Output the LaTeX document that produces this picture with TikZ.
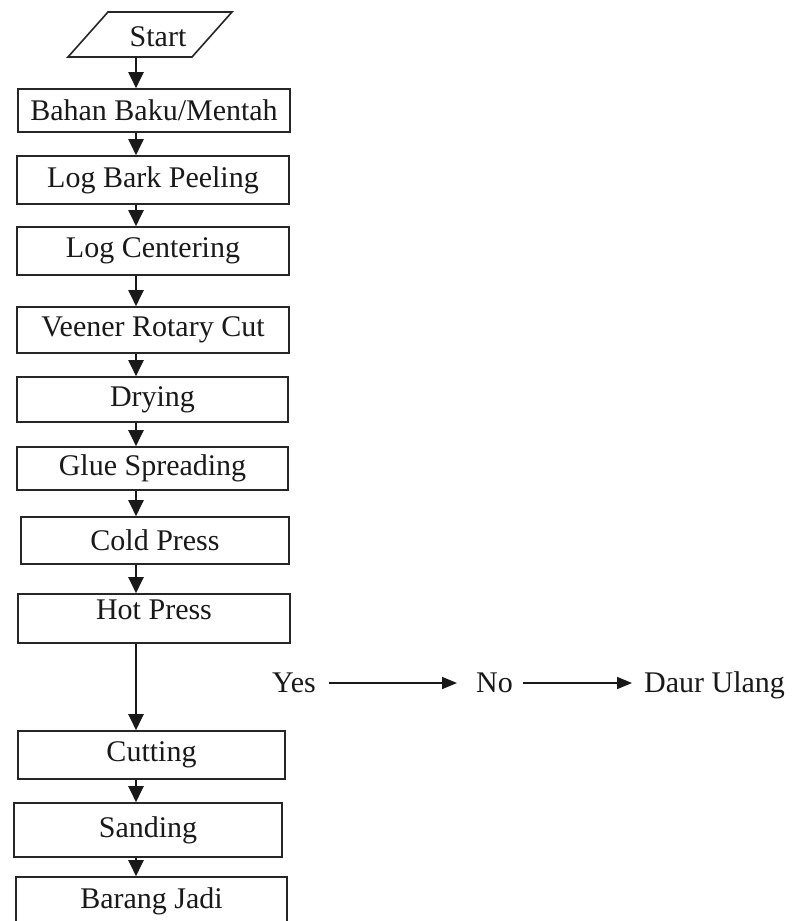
\documentclass[tikz,border=0pt]{standalone}
\usepackage{fontspec}
\setmainfont{Liberation Serif}
\usetikzlibrary{arrows.meta}
\begin{document}
\begin{tikzpicture}[x=1pt,y=-1pt,
  box/.style={draw=black!85, line width=1.6pt, rectangle, inner sep=0pt,
    font=\fontsize{30}{36}\selectfont, text=black!90},
  lbl/.style={inner sep=0pt, font=\fontsize{30}{36}\selectfont, text=black!90},
  arr/.style={line width=2pt, draw=black!90, -{Triangle[width=15pt,length=16pt]}},
  harr/.style={line width=1.6pt, draw=black!90, -{Triangle[width=12pt,length=15pt]}}]
\useasboundingbox (0,0) rectangle (801,921);
\clip (0,0) rectangle (801,921);
\fill[white] (0,0) rectangle (801,921);

% Start parallelogram
\draw[black!85, line width=1.6pt, line join=miter] (108,12) -- (232,12) -- (192,57) -- (68,57) -- cycle;
\node[lbl, minimum height=40pt] (start) at (158,37) {Start};

\node[box, minimum width=272pt, minimum height=43pt] (b1) at (154,110.5) {Bahan Baku/Mentah};
\node[box, minimum width=272pt, minimum height=48pt] (b2) at (153,180) {Log Bark Peeling};
\node[box, minimum width=272pt, minimum height=48pt] (b3) at (153,251) {Log Centering};
\node[box, minimum width=272pt, minimum height=46pt] (b4) at (153,330) {Veener Rotary Cut};
\node[box, minimum width=271pt, minimum height=45pt] (b5) at (152.5,399.5) {Drying};
\node[box, minimum width=271pt, minimum height=43pt] (b6) at (152.5,468.5) {Glue Spreading};
\node[box, minimum width=268pt, minimum height=47pt] (b7) at (155,540.5) {Cold Press};
\node[box, minimum width=272pt, minimum height=49pt, text depth=17pt] (b8) at (154,618.5) {Hot Press};
\node[box, minimum width=267pt, minimum height=48pt] (b9) at (151.5,755) {Cutting};
\node[box, minimum width=268pt, minimum height=54pt] (b10) at (148,830) {Sanding};
\node[box, minimum width=271pt, minimum height=48pt] (b11) at (151.5,901) {Barang Jadi};

\coordinate (ax) at (136,0);
\draw[arr] (start.south -| ax) -- (b1.north -| ax);
\draw[arr] (b1.south -| ax) -- (b2.north -| ax);
\draw[arr] (b2.south -| ax) -- (b3.north -| ax);
\draw[arr] (b3.south -| ax) -- (b4.north -| ax);
\draw[arr] (b4.south -| ax) -- (b5.north -| ax);
\draw[arr] (b5.south -| ax) -- (b6.north -| ax);
\draw[arr] (b6.south -| ax) -- (b7.north -| ax);
\draw[arr] (b7.south -| ax) -- (b8.north -| ax);
\draw[arr] (b8.south -| ax) -- (b9.north -| ax);
\draw[arr] (b9.south -| ax) -- (b10.north -| ax);
\draw[arr] (b10.south -| ax) -- (b11.north -| ax);

% Yes / No / Daur Ulang
\node[lbl, anchor=base west] (yes) at (272,692) {Yes};
\node[lbl, anchor=base west] (no) at (476,692) {No};
\node[lbl, anchor=base west] (daur) at (644,692) {Daur Ulang};
\coordinate (ya) at (0,683);
\draw[harr, shorten <=13pt, shorten >=19pt] (yes.east |- ya) -- (no.west |- ya);
\draw[harr, shorten <=10pt, shorten >=12pt] (no.east |- ya) -- (daur.west |- ya);
\end{tikzpicture}
\end{document}
